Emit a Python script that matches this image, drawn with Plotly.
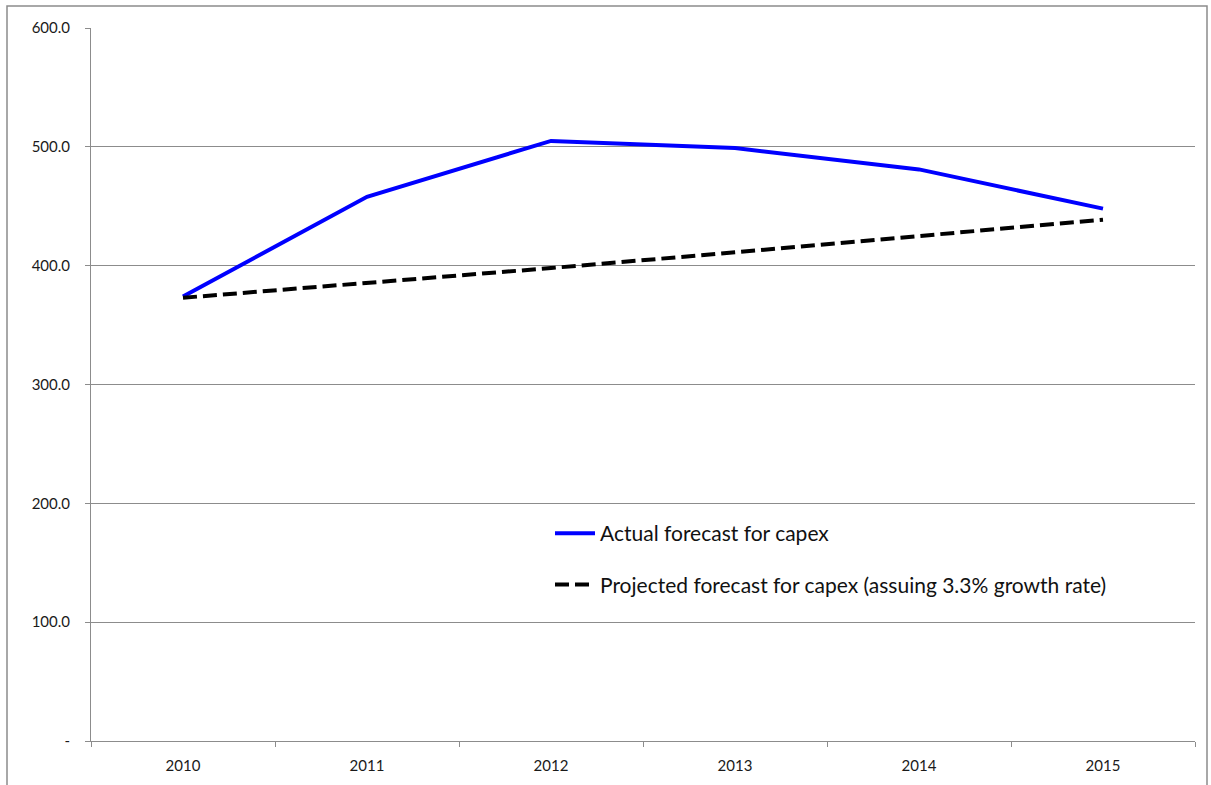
import plotly.graph_objects as go

years = ["2010", "2011", "2012", "2013", "2014", "2015"]
actual = [374.0, 458.0, 505.0, 499.0, 481.0, 448.0]
projected = [373.0, 385.3, 398.0, 411.2, 424.7, 438.7]
y_ticks = [0, 100, 200, 300, 400, 500, 600]
y_tick_labels = ["-", "100.0", "200.0", "300.0", "400.0", "500.0", "600.0"]

W, H = 1211, 785
L, R, T, B = 91, 16, 28, 44
pw = W - L - R
ph = H - T - B

fig = go.Figure()
fig.add_trace(go.Scatter(
    x=years, y=actual, mode="lines", name="Actual forecast for capex",
    line=dict(color="#0000FF", width=4), legendgroup="a"))
fig.add_trace(go.Scatter(
    x=years, y=projected, mode="lines",
    name="Projected forecast for capex (assuing 3.3% growth rate)",
    line=dict(color="#000000", width=4, dash="14px,6px"), legendgroup="b"))

# outer chart border
fig.add_shape(type="rect", xref="paper", yref="paper",
              x0=(7 - L) / pw, x1=(1207 - L) / pw,
              y0=-(800 - (H - B)) / ph,
              y1=((H - B) - 6) / ph,
              line=dict(color="#8c8c8c", width=1.5), fillcolor="rgba(0,0,0,0)",
              layer="below")

fig.update_layout(
    width=W, height=H,
    margin=dict(l=L, r=R, t=T, b=B, pad=0, autoexpand=False),
    paper_bgcolor="white", plot_bgcolor="white",
    font=dict(family="Lato, 'Liberation Sans', sans-serif", color="#222222"),
    showlegend=True,
    legend=dict(x=(550 - L) / pw, y=(H - B - 513) / ph, xanchor="left", yanchor="top",
                font=dict(size=21, color="#111111"), bgcolor="rgba(0,0,0,0)",
                traceorder="grouped", tracegroupgap=21, itemwidth=40),
    xaxis=dict(type="category", range=[-0.5, 5.5], showgrid=False, showline=True,
               linecolor="#8c8c8c", linewidth=1, ticks="outside", tickson="boundaries",
               ticklen=5, tickcolor="#8c8c8c", tickfont=dict(size=15, color="#1a1a1a"),
               ticklabelstandoff=11, fixedrange=True, automargin=False),
    yaxis=dict(range=[0, 600], tickvals=y_ticks, ticktext=y_tick_labels,
               showgrid=True, gridcolor="#8c8c8c", gridwidth=1,
               showline=True, linecolor="#8c8c8c", linewidth=1,
               ticks="outside", ticklen=5, tickcolor="#8c8c8c",
               tickfont=dict(size=15, color="#1a1a1a"), ticklabelstandoff=12,
               zeroline=False, fixedrange=True, automargin=False),
)

fig.write_html("out.html")
